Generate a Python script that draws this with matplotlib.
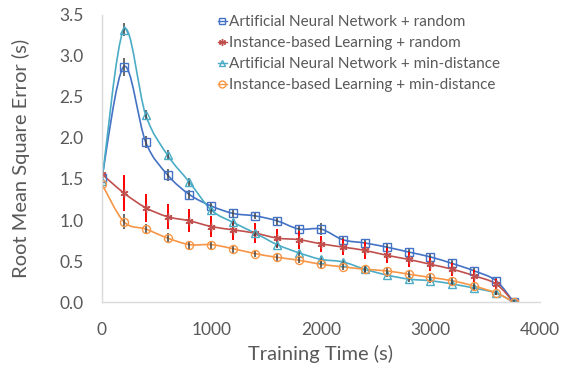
import numpy as np
import matplotlib
matplotlib.use("Agg")
from matplotlib import pyplot as plt
from matplotlib.path import Path
from matplotlib.patches import PathPatch
from matplotlib.lines import Line2D

# training time (s)
train_time = [0, 200, 400, 600, 800, 1000, 1200, 1400, 1600, 1800, 2000,
              2200, 2400, 2600, 2800, 3000, 3200, 3400, 3600, 3760]

ann_random = [1.51, 2.87, 1.95, 1.55, 1.31, 1.17, 1.08, 1.05, 0.99, 0.89, 0.89,
              0.76, 0.72, 0.67, 0.61, 0.55, 0.47, 0.38, 0.26, 0.0]
ann_random_err = [0.25, 0.11, 0.07, 0.07, 0.05, 0.05, 0.04, 0.04, 0.05, 0.04, 0.07,
                  0.04, 0.04, 0.04, 0.04, 0.04, 0.05, 0.04, 0.04, 0.02]

ibl_random = [1.56, 1.33, 1.15, 1.04, 0.99, 0.92, 0.88, 0.84, 0.78, 0.76, 0.71,
              0.67, 0.63, 0.57, 0.52, 0.46, 0.40, 0.32, 0.22, 0.0]
ibl_random_err = [0.3, 0.22, 0.17, 0.155, 0.14, 0.13, 0.12, 0.12, 0.11, 0.11, 0.1,
                  0.1, 0.1, 0.09, 0.09, 0.08, 0.08, 0.07, 0.06, 0.02]

ann_mindist = [1.47, 3.32, 2.28, 1.79, 1.46, 1.12, 0.97, 0.84, 0.70, 0.60, 0.52,
               0.49, 0.40, 0.33, 0.28, 0.26, 0.22, 0.17, 0.11, 0.0]
ann_mindist_err = [0.1, 0.08, 0.06, 0.06, 0.05, 0.05, 0.04, 0.04, 0.04, 0.04, 0.04,
                   0.04, 0.03, 0.03, 0.03, 0.03, 0.03, 0.03, 0.03, 0.02]

ibl_mindist = [1.44, 0.98, 0.89, 0.78, 0.70, 0.70, 0.65, 0.59, 0.545, 0.51, 0.46,
               0.43, 0.40, 0.38, 0.34, 0.30, 0.26, 0.195, 0.11, 0.0]
ibl_mindist_err = [0.3, 0.09, 0.06, 0.06, 0.05, 0.05, 0.05, 0.04, 0.04, 0.04, 0.04,
                   0.04, 0.04, 0.04, 0.04, 0.04, 0.04, 0.04, 0.03, 0.02]

labels = ["Artificial Neural Network + random",
          "Instance-based Learning + random",
          "Artificial Neural Network + min-distance",
          "Instance-based Learning + min-distance"]


def smooth_path(xs, ys):
  # excel style smoothed line (catmull-rom as bezier segments)
  pts = np.column_stack([xs, ys]).astype(float)
  n = len(pts)
  verts = [pts[0]]
  codes = [Path.MOVETO]
  for i in range(n - 1):
    p0 = pts[i - 1] if i > 0 else pts[i]
    p1 = pts[i]
    p2 = pts[i + 1]
    p3 = pts[i + 2] if i + 2 < n else pts[i + 1]
    verts += [p1 + (p2 - p0) / 6, p2 - (p3 - p1) / 6, p2]
    codes += [Path.CURVE4] * 3
  return Path(verts, codes)


plt.rcParams['font.family'] = ['Lato', 'DejaVu Sans']
fig = plt.figure(figsize=(5.66, 3.72), dpi=100)
ax = fig.add_axes([0.180, 0.188, 0.774, 0.772])

series = [
  (ann_random, ann_random_err, '#4472C4', 's', '#404040'),
  (ibl_random, ibl_random_err, '#C0504D', (6, 2, 0), '#FF0000'),
  (ann_mindist, ann_mindist_err, '#4BACC6', '^', '#404040'),
  (ibl_mindist, ibl_mindist_err, '#F79646', 'o', '#404040'),
]

handles = []
for (ys, err, col, mk, ecol), lab in zip(series, labels):
  ax.add_patch(PathPatch(smooth_path(train_time, ys), facecolor='none',
                         edgecolor=col, lw=1.2))
  ax.errorbar(train_time, ys, yerr=err, fmt='none', ecolor=ecol,
              elinewidth=1.4 if ecol == '#FF0000' else 1.1, capsize=0)
  ax.plot(train_time, ys, linestyle='none', marker=mk, markersize=5.8,
          markerfacecolor='none', markeredgecolor=col, markeredgewidth=1.0)
  handles.append(Line2D([], [], color=col, lw=1.0, marker=mk, markersize=5,
                        markerfacecolor='none', markeredgecolor=col))

ax.set_xlim(0, 4000)
ax.set_ylim(0, 3.5)
ax.set_xticks([0, 1000, 2000, 3000, 4000])
ax.set_yticks(np.arange(0, 3.51, 0.5))
ax.yaxis.set_major_formatter(matplotlib.ticker.FormatStrFormatter('%.1f'))
ax.tick_params(length=0, labelsize=12.5, colors='#595959')
ax.tick_params(axis='x', pad=14)
ax.tick_params(axis='y', pad=13)
for s in ['top', 'right']:
  ax.spines[s].set_visible(False)
for s in ['left', 'bottom']:
  ax.spines[s].set_color('#d9d9d9')
  ax.spines[s].set_linewidth(1.0)

ax.set_xlabel('Training Time (s)', fontsize=14.5, color='#595959', labelpad=5)
ax.set_ylabel('Root Mean Square Error (s)', fontsize=14.5, color='#595959', labelpad=21)

leg = ax.legend(handles, labels, loc='upper left', bbox_to_anchor=(0.25, 1.02),
                frameon=False, fontsize=11, handlelength=0.6, handletextpad=0.15,
                labelspacing=0.45, borderaxespad=0)
for t in leg.get_texts():
  t.set_color('#595959')

fig.savefig('out.png', dpi=100)
